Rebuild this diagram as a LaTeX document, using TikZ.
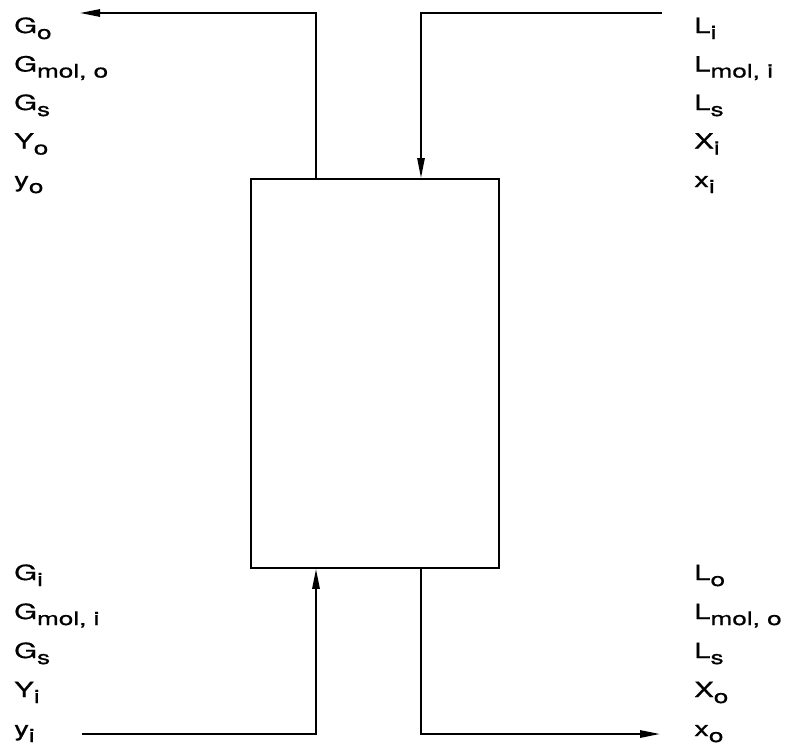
\documentclass[tikz,border=0pt]{standalone}
\usepackage{fontspec}
\setmainfont{TeX Gyre Heros}
\usetikzlibrary{arrows.meta}
\newcommand{\ix}[1]{\raisebox{-4.5pt}{\fontsize{14}{14}\selectfont #1}}
\newcommand{\wide}[1]{\scalebox{1.4}[1]{#1}}

\begin{document}
\begin{tikzpicture}[x=0.75pt,y=0.75pt,yscale=-1,xscale=1,
    flow/.style={line width=1.4pt},
    tip/.style={-{Triangle[length=15pt,width=5.5pt]}},
    lbl/.style={anchor=base west,inner sep=0pt,font=\fontsize{15.7}{15.7}\selectfont\addfontfeature{FakeBold=0.6}}]
        \useasboundingbox (0,0) rectangle (785,744);

        %Shape: Rectangle [column]
        \node [draw,line width=1.4pt,anchor=north west,inner sep=0pt,minimum width=186pt,minimum height=291.75pt] (column) at (250,178) {};

        % stream end points and bends
        \coordinate (Gout) at (80,13);
        \coordinate (Gtop) at (316,13);
        \coordinate (Lin) at (662,13);
        \coordinate (Ltop) at (421,13);
        \coordinate (Gin) at (82,734);
        \coordinate (Gbot) at (316,734);
        \coordinate (Lbot) at (421,734);
        \coordinate (Lout) at (660,734);

        %Straight Lines [gas out]
        \draw [flow,tip] (Gtop |- column.north) -- (Gtop) -- (Gout);
        %Straight Lines [liquid in]
        \draw [flow,tip] (Lin) -- (Ltop) -- (Ltop |- column.north);
        %Straight Lines [gas in]
        \draw [flow,tip] (Gin) -- (Gbot) -- (Gbot |- column.south);
        %Straight Lines [liquid out]
        \draw [flow,tip] (Lbot |- column.south) -- (Lbot) -- (Lout);

        % Text Node [top left]
        \foreach \txt [count=\k] in {G\ix{o},{G\ix{mol, o}},G\ix{s},Y\ix{o},y\ix{o}}
            \node [lbl] (gtop\k) at (14,{33+38.5*(\k-1)}) {\wide{\txt}};
        % Text Node [top right]
        \foreach \txt [count=\k] in {L\ix{i},{L\ix{mol, i}},L\ix{s},X\ix{i},x\ix{i}}
            \node [lbl] (ltop\k) at (694,{33+38.5*(\k-1)}) {\wide{\txt}};
        % Text Node [bottom left]
        \foreach \txt [count=\k] in {G\ix{i},{G\ix{mol, i}},G\ix{s},Y\ix{i},y\ix{i}}
            \node [lbl] (gbot\k) at (14,{580+39*(\k-1)}) {\wide{\txt}};
        % Text Node [bottom right]
        \foreach \txt [count=\k] in {L\ix{o},{L\ix{mol, o}},L\ix{s},X\ix{o},x\ix{o}}
            \node [lbl] (lbot\k) at (694,{580+39*(\k-1)}) {\wide{\txt}};

\end{tikzpicture}
\end{document}
